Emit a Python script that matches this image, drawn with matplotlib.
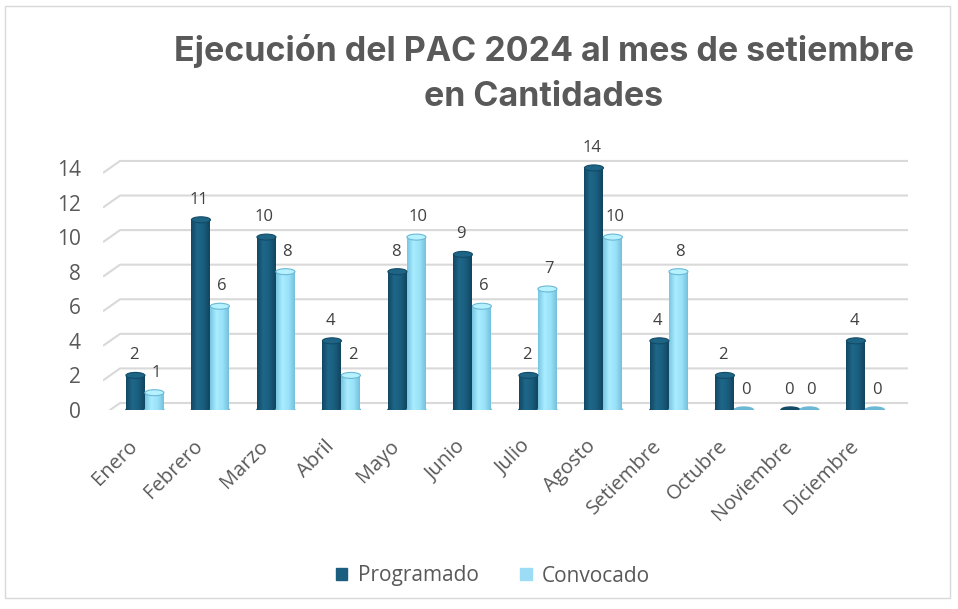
import numpy as np
import matplotlib
matplotlib.use("Agg")
import matplotlib.pyplot as plt
from matplotlib.patches import Ellipse, Rectangle
from matplotlib.colors import LinearSegmentedColormap

meses = ["Enero", "Febrero", "Marzo", "Abril", "Mayo", "Junio", "Julio",
         "Agosto", "Setiembre", "Octubre", "Noviembre", "Diciembre"]
programado = [2, 11, 10, 4, 8, 9, 2, 14, 4, 2, 0, 4]
convocado = [1, 6, 8, 2, 10, 6, 7, 10, 8, 0, 0, 0]
yticks = [0, 2, 4, 6, 8, 10, 12, 14]

plt.rcParams['font.family'] = ['Open Sans', 'DejaVu Sans']

W, H = 958, 609
fig = plt.figure(figsize=(W / 100, H / 100), dpi=100)
# ejes: x de 103 a 908 px, y: 0 en 410 px, 15 en ~151 px
px_unit = 17.29
ax = fig.add_axes([103 / W, (H - 410) / H, 805 / W, 15 * px_unit / H])
ax.set_xlim(-0.64, 11.65)
ax.set_ylim(0, 15)
ax.set_facecolor("none")
for s in ax.spines.values():
    s.set_visible(False)

# rejilla con perspectiva
back = 7 / px_unit
for v in yticks:
    ax.plot([-0.64, -0.38, 11.65], [v - 5 / px_unit, v + back, v + back],
            color="#d9d9d9", lw=1.5, zorder=0, solid_capstyle="butt")

c_prog = LinearSegmentedColormap.from_list("p", ["#124862", "#1e678a", "#1a5e7e", "#114560"])
c_conv = LinearSegmentedColormap.from_list("c", ["#78c6e2", "#a8ecff", "#9ae2f9", "#74c0dc"])
grad = np.linspace(0, 1, 64).reshape(1, -1)

bw = 0.29
eh = 6 / px_unit


def cilindro(xc, val, cmap, top_col, edge_col):
    x0 = xc - bw / 2
    ax.add_patch(Ellipse((xc, 0), bw, eh, color=edge_col, zorder=2))
    if val > 0:
        ax.imshow(grad, cmap=cmap, extent=[x0, x0 + bw, 0, val],
                  aspect="auto", zorder=2, interpolation="bilinear")
        ax.add_patch(Ellipse((xc, val), bw, eh, facecolor=top_col,
                             edgecolor=edge_col, lw=0.8, zorder=3))


for i, (p, c) in enumerate(zip(programado, convocado)):
    xp = i - bw / 2
    xcv = i + bw / 2
    cilindro(xp, p, c_prog, "#1d6485", "#134b67")
    cilindro(xcv, c, c_conv, "#b5f1ff", "#6cb8d4")
    ax.text(xp - 0.03, p + 0.7, str(p), ha="center", va="bottom",
            fontsize=12, color="#404040", zorder=4)
    ax.text(xcv + 0.03, c + 0.7, str(c), ha="center", va="bottom",
            fontsize=12, color="#404040", zorder=4)

ax.set_xlim(-0.64, 11.65)
ax.set_ylim(0, 15)

ax.set_yticks(yticks)
ax.set_yticklabels([str(v) for v in yticks], fontsize=15, color="#595959")
ax.set_xticks(np.arange(len(meses)) - 0.05)
ax.set_xticklabels(meses, rotation=45, ha="right", va="top",
                   fontsize=14.5, color="#595959")
ax.tick_params(axis="y", length=0, pad=16)
ax.tick_params(axis="x", length=0, pad=19)

titulo = dict(ha="center", va="center", fontsize=24.5, fontweight="bold",
              color="#595959", family=["Inter", "Open Sans", "DejaVu Sans"])
fig.text(544 / W, 1 - 51 / H, "Ejecución del PAC 2024 al mes de setiembre", **titulo)
fig.text(544 / W, 1 - 97 / H, "en Cantidades", **titulo)

# leyenda
fig.legend(handles=[Rectangle((0, 0), 1, 1, color="#1b5e80"),
                    Rectangle((0, 0), 1, 1, color="#9ddcf5")],
           labels=["Programado", "Convocado"], loc="center",
           bbox_to_anchor=(493 / W, 1 - 576 / H), ncol=2, frameon=False,
           fontsize=15, labelcolor="#595959", handlelength=0.55,
           handleheight=0.55, columnspacing=2.0, handletextpad=0.5)

# borde del area del grafico
fig.add_artist(Rectangle((5 / W, 1 - 598 / H), 945 / W, 592 / H,
                         transform=fig.transFigure, fill=False,
                         edgecolor="#d9d9d9", lw=1))

fig.savefig("out.png", dpi=100)
